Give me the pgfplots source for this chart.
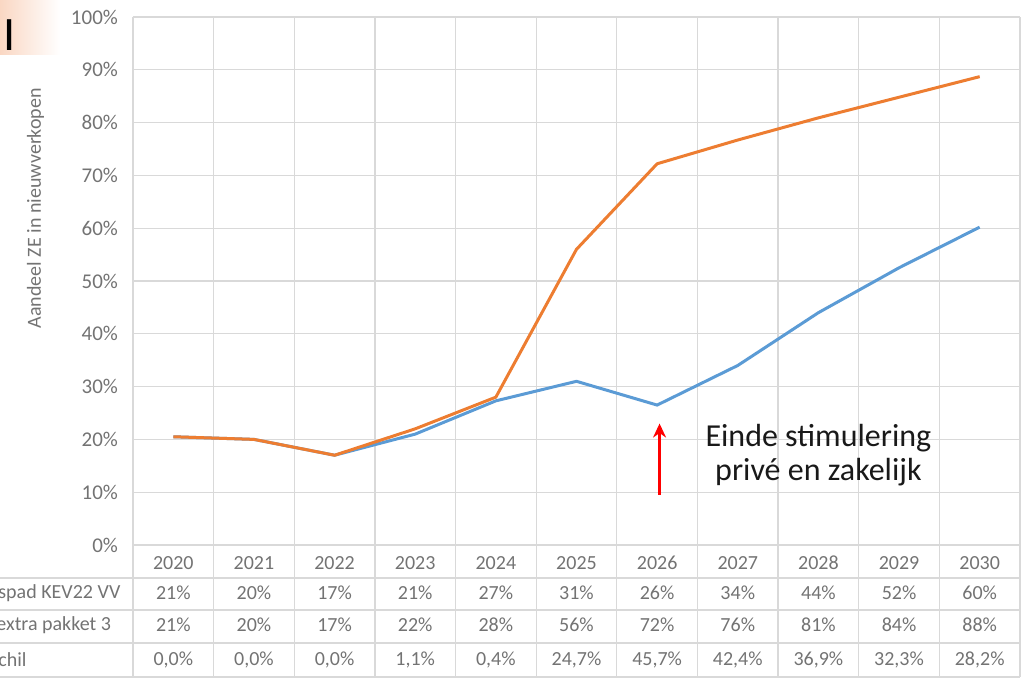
\documentclass[border=0pt]{standalone}
\usepackage{pgfplots}
\pgfplotsset{compat=1.18}
\usetikzlibrary{arrows.meta}
\usepackage{fontspec}
\setmainfont{Carlito}
\definecolor{xblue}{RGB}{91,155,213}
\definecolor{xorange}{RGB}{237,125,49}
\definecolor{xgrid}{RGB}{217,217,217}
\definecolor{xtext}{RGB}{115,115,115}
\tikzset{tab/.style={font=\fontsize{10}{12}\selectfont, text=xtext}}
\begin{document}
\begin{tikzpicture}
\path[use as bounding box] (0,0) rectangle (512.5pt,339.5pt);
\fill[left color={rgb,255:red,250;green,215;blue,195}, right color=white] (0,339.5pt) rectangle (30pt,312pt);
\node[anchor=west, font=\fontsize{24}{24}\selectfont, inner sep=0pt] at (1.5pt,322pt) {I};
\begin{axis}[
  at={(66.5pt,67pt)}, anchor=south west,
  scale only axis, width=443.5pt, height=264pt,
  xmin=-0.5, xmax=10.5, ymin=0, ymax=100,
  clip=false,
  axis line style={draw=none},
  major tick length=0pt,
  xtick={-0.5,0.5,...,10.5}, xticklabels={},
  ytick={0,10,...,100},
  yticklabel={\pgfmathprintnumber{\tick}\%},
  /pgf/number format/assume math mode=true,
  yticklabel style={font=\fontsize{10.5}{12}\selectfont, text=xtext, xshift=-4pt},
  grid=major, grid style={xgrid, line width=0.6pt},
]
\addplot[xblue, line width=1.5pt] coordinates {
 (0,20.5) (1,20) (2,17) (3,21) (4,27.3) (5,31) (6,26.5) (7,34) (8,44) (9,52.5) (10,60.2)};
\addplot[xorange, line width=1.5pt] coordinates {
 (0,20.5) (1,20) (2,17) (3,22) (4,28) (5,56) (6,72.2) (7,76.7) (8,80.9) (9,84.8) (10,88.7)};
% annotation
\draw[red, line width=1.1pt, -{Stealth[length=7pt,width=6.5pt]}] (axis cs:6.03,9.5) -- (axis cs:6.03,23);
\node[align=center, font=\fontsize{16}{17}\selectfont, text=black!90] at (axis cs:8,17) {Einde stimulering\\privé en zakelijk};
% y label
\node[rotate=90, font=\fontsize{10}{12}\selectfont, text=xtext] at (rel axis cs:-0.11,0.638) {Aandeel ZE in nieuwverkopen};
% data table lines
\pgfplotsinvokeforeach{-6.25,-12.31,-18.56,-25}{
  \draw[xgrid, line width=0.6pt] (axis cs:-2.2,#1) -- (axis cs:10.5,#1);
}
\pgfplotsinvokeforeach{-0.5,0.5,1.5,2.5,3.5,4.5,5.5,6.5,7.5,8.5,9.5,10.5}{
  \draw[xgrid, line width=0.6pt] (axis cs:#1,0) -- (axis cs:#1,-25);
}
% table text
\foreach \lab [count=\i from 0] in {2020,2021,2022,2023,2024,2025,2026,2027,2028,2029,2030} {
  \edef\tmp{\noexpand\node[tab] at (axis cs:\i,-3.41) {\lab};}\tmp
}
\foreach \lab [count=\i from 0] in {21\%,20\%,17\%,21\%,27\%,31\%,26\%,34\%,44\%,52\%,60\%} {
  \edef\tmp{\noexpand\node[tab] at (axis cs:\i,-9.09) {\lab};}\tmp
}
\foreach \lab [count=\i from 0] in {21\%,20\%,17\%,22\%,28\%,56\%,72\%,76\%,81\%,84\%,88\%} {
  \edef\tmp{\noexpand\node[tab] at (axis cs:\i,-15.15) {\lab};}\tmp
}
\foreach \lab [count=\i from 0] in {{0,0\%},{0,0\%},{0,0\%},{1,1\%},{0,4\%},{24,7\%},{45,7\%},{42,4\%},{36,9\%},{32,3\%},{28,2\%}} {
  \edef\tmp{\noexpand\node[tab] at (axis cs:\i,-21.78) {\lab};}\tmp
}
\end{axis}
\begin{scope}
\clip (0,0) rectangle (512.5pt,339.5pt);
\node[tab, anchor=west, inner sep=0pt] at (-1pt,43pt) {spad KEV22 VV};
\node[tab, anchor=west, inner sep=0pt] at (-2pt,27pt) {extra pakket 3};
\node[tab, anchor=west, inner sep=0pt] at (-1pt,9.5pt) {chil};
\end{scope}
\end{tikzpicture}
\end{document}
